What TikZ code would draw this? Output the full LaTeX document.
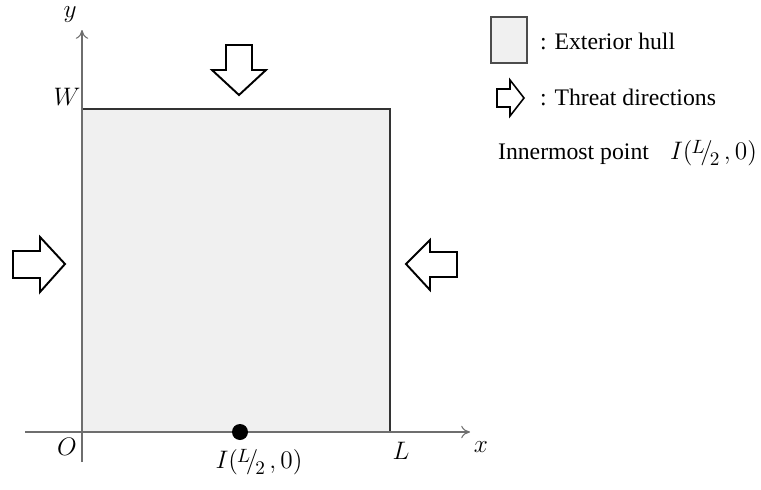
\documentclass[tikz,border=0pt]{standalone}
\usepackage{fontspec}
\setmainfont{Liberation Serif}
\usepackage{xcolor}
\definecolor{hullgrey}{RGB}{240,240,240}
\definecolor{axisgrey}{RGB}{110,110,110}
\usetikzlibrary{arrows.meta,positioning}
\newcommand{\ipoint}{$I(\raisebox{0.45ex}{$\scriptstyle\mkern-1mu L$}\mkern-3mu\big/\mkern-2mu\raisebox{-0.55ex}{$\scriptstyle 2$}\,,0)$}
\tikzset{
  hull/.style={draw=black!80, fill=hullgrey, line width=0.7pt},
  axis/.style={draw=axisgrey, line width=0.6pt, -{To[length=5pt,width=7pt]}},
  threat/.style={draw=black, fill=white, line width=1.1pt, line join=miter},
  lab/.style={font=\fontsize{15}{17}\selectfont, inner sep=1pt},
  legtext/.style={font=\fontsize{13.5}{16}\selectfont, anchor=west, inner sep=1pt}
}
\begin{document}
\begin{tikzpicture}[x=0.02cm, y=-0.02cm]
  \useasboundingbox (0,0) rectangle (761,490);
  \coordinate (O) at (82,432);
  \coordinate (Lx) at (390,432);
  \coordinate (Wy) at (82,109);
  \coordinate (xend) at (470,432);
  \coordinate (xstart) at (25,432);
  \coordinate (yend) at (82,30);
  \coordinate (ystart) at (82,462);
  \filldraw[hull] (Wy) rectangle (Lx);
  \draw[axis] (xstart) -- (xend);
  \draw[axis] (ystart) -- (yend);
  \fill (240,432) circle (8) coordinate (Ipt);
  % threat directions
  \draw[threat] (226,45) -- (252,45) -- (252,70) -- (266,70) -- (239,95) -- (212,70) -- (226,70) -- cycle;
  \draw[threat] (13,251) -- (40,251) -- (40,237) -- (65,264) -- (40,292) -- (40,278) -- (13,278) -- cycle;
  \draw[threat] (457,252) -- (430,252) -- (430,240) -- (406,264) -- (430,290) -- (430,277) -- (457,277) -- cycle;
  \node[lab] (ylab) at (70,15) {$y$};
  \node[lab] (wlab) at (67,97) {$W$};
  \node[lab] (olab) at (67,447) {$O$};
  \node[lab] (llab) at (401,451) {$L$};
  \node[lab] (xlab) at (481,447) {$x$};
  \node[lab] (ilab) at (259,462) {\ipoint};
  % legend
  \filldraw[hull, draw=black!70] (491,17) rectangle (527,63);
  \node[legtext] (hulltext) at (538,41) {: Exterior hull};
  \draw[threat, line width=0.9pt] (497,89) -- (510,89) -- (510,80) -- (524,98) -- (510,116) -- (510,107) -- (497,107) -- cycle;
  \node[legtext] (threattext) at (538,97) {: Threat directions};
  \node[legtext] (innertext) at (496,153) {Innermost point\hspace{12pt}{\fontsize{15}{17}\selectfont\ipoint}};
\end{tikzpicture}
\end{document}
